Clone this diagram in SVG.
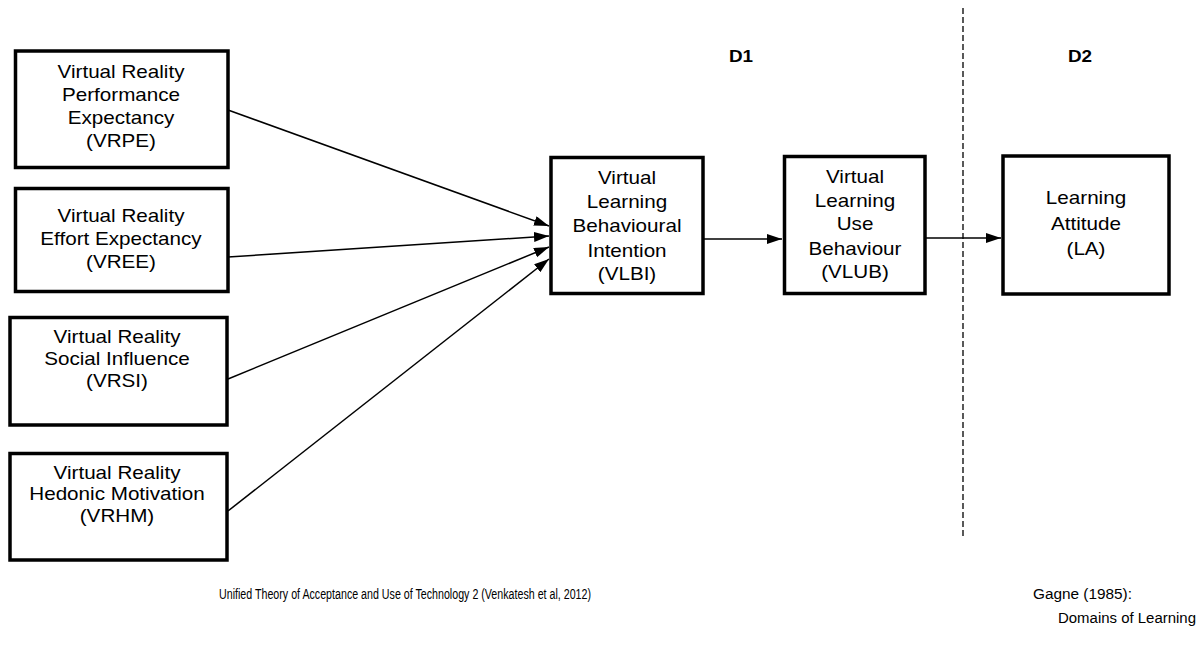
<svg xmlns="http://www.w3.org/2000/svg" width="1201" height="646" viewBox="0 0 1201 646">
<style>
.box{fill:#fff;stroke:#000;stroke-width:3.5}
.t{font-family:"Liberation Sans",Arial,sans-serif;font-size:17.5px;fill:#000;text-anchor:middle}
.b{font-family:"Liberation Sans",Arial,sans-serif;font-size:16px;font-weight:bold;fill:#000;text-anchor:middle}
.n{font-family:"Liberation Sans",Arial,sans-serif;font-size:15.5px;fill:#000}
.c{stroke:#000;stroke-width:1.5;fill:none;marker-end:url(#ah)}
</style>
<defs>
<marker id="ah" markerUnits="userSpaceOnUse" markerWidth="16" markerHeight="12" refX="15" refY="5" orient="auto">
<path d="M0,0 L15,5 L0,10 z" fill="#000"/>
</marker>
</defs>
<rect width="1201" height="646" fill="#fff"/>
<line x1="963" y1="8" x2="963" y2="538" stroke="#000" stroke-width="1.3" stroke-dasharray="6,3"/>
<g id="connectors">
<line class="c" x1="228" y1="110" x2="549" y2="226"/>
<line class="c" x1="228" y1="257" x2="549" y2="236"/>
<line class="c" x1="228" y1="379" x2="549" y2="247"/>
<line class="c" x1="228" y1="511" x2="549" y2="259"/>
<line class="c" x1="703" y1="239" x2="782" y2="239"/>
<line class="c" x1="925" y1="238" x2="1001" y2="238"/>
</g>
<g id="vrpe">
<rect class="box" x="15.5" y="51" width="212.5" height="116.5"/>
<g transform="translate(121,0) scale(1.18,1)"><text class="t" x="0" y="78">Virtual Reality</text><text class="t" x="0" y="101">Performance</text><text class="t" x="0" y="124">Expectancy</text><text class="t" x="0" y="147">(VRPE)</text></g>
</g>
<g id="vree">
<rect class="box" x="15.5" y="188.5" width="212.5" height="103"/>
<g transform="translate(121,0) scale(1.18,1)"><text class="t" x="0" y="222">Virtual Reality</text><text class="t" x="0" y="245">Effort Expectancy</text><text class="t" x="0" y="268">(VREE)</text></g>
</g>
<g id="vrsi">
<rect class="box" x="10" y="317.5" width="217" height="107.5"/>
<g transform="translate(117,0) scale(1.18,1)"><text class="t" x="0" y="343">Virtual Reality</text><text class="t" x="0" y="365">Social Influence</text><text class="t" x="0" y="387">(VRSI)</text></g>
</g>
<g id="vrhm">
<rect class="box" x="10" y="453.5" width="217" height="106.5"/>
<g transform="translate(117,0) scale(1.18,1)"><text class="t" x="0" y="479">Virtual Reality</text><text class="t" x="0" y="500">Hedonic Motivation</text><text class="t" x="0" y="522">(VRHM)</text></g>
</g>
<g id="vlbi">
<rect class="box" x="551" y="157.5" width="152" height="136"/>
<g transform="translate(627,0) scale(1.18,1)"><text class="t" x="0" y="184">Virtual</text><text class="t" x="0" y="208">Learning</text><text class="t" x="0" y="232">Behavioural</text><text class="t" x="0" y="257">Intention</text><text class="t" x="0" y="280">(VLBI)</text></g>
</g>
<g id="vlub">
<rect class="box" x="784.5" y="156.5" width="140.5" height="137"/>
<g transform="translate(855,0) scale(1.18,1)"><text class="t" x="0" y="183">Virtual</text><text class="t" x="0" y="207">Learning</text><text class="t" x="0" y="230">Use</text><text class="t" x="0" y="255">Behaviour</text><text class="t" x="0" y="278">(VLUB)</text></g>
</g>
<g id="la">
<rect class="box" x="1003" y="156" width="166" height="138"/>
<g transform="translate(1086,0) scale(1.18,1)"><text class="t" x="0" y="204">Learning</text><text class="t" x="0" y="230">Attitude</text><text class="t" x="0" y="255">(LA)</text></g>
</g>
<g id="labels">
<g transform="translate(741,0) scale(1.18,1)"><text class="b" x="0" y="62">D1</text></g>
<g transform="translate(1080,0) scale(1.18,1)"><text class="b" x="0" y="62">D2</text></g>
<text class="n" x="219" y="599" textLength="372" lengthAdjust="spacingAndGlyphs">Unified Theory of Acceptance and Use of Technology 2 (Venkatesh et al, 2012)</text>
<text class="n" x="1033" y="599" textLength="99" lengthAdjust="spacingAndGlyphs">Gagne (1985):</text>
<text class="n" x="1058" y="623" textLength="138" lengthAdjust="spacingAndGlyphs">Domains of Learning</text>
</g>
</svg>
